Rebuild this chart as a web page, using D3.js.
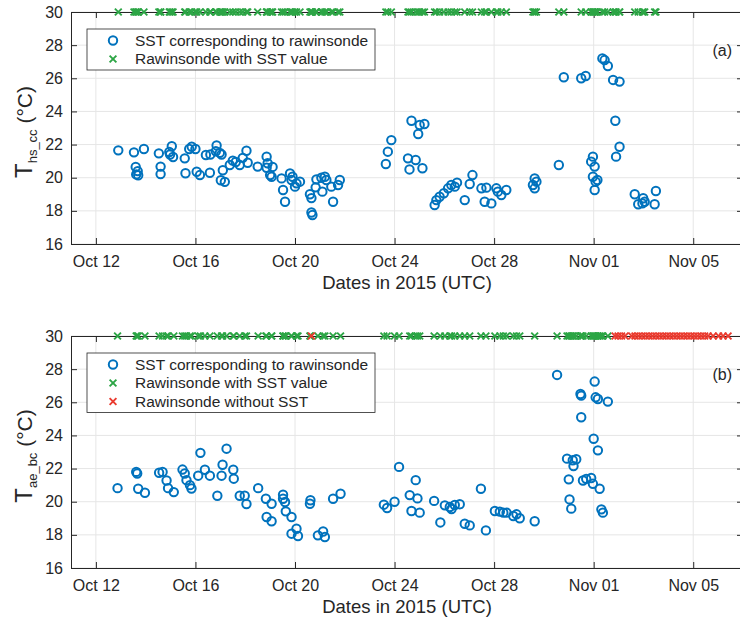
<!DOCTYPE html>
<html>
<head>
<meta charset="utf-8">
<script src="https://cdn.jsdelivr.net/npm/d3@7"></script>
<style>
	body { margin: 0; background: #fff; }
	svg { font-family: "Liberation Sans", Arial, Helvetica, sans-serif; }
</style>
</head>
<body>
<svg id="chart" width="740" height="620"></svg>
<script>
// times are day numbers counted in October 2015, UTC (Nov 01 = 32)

// (a) T_hs_cc
var dayA = [12.90, 13.53, 13.93, 13.60, 13.68, 13.62, 13.70, 14.53, 14.60, 14.60,
	14.95, 15.05, 15.10, 14.98, 15.57, 15.75, 15.85, 16.00, 15.60, 16.05,
	16.18, 16.42, 16.60, 16.58, 16.85, 16.82, 17.05, 16.98, 17.10, 17.02,
	17.18, 17.38, 17.50, 17.78, 17.90, 18.05, 18.10, 17.62, 18.50, 18.86,
	18.90, 18.86, 19.10, 19.00, 19.06, 19.46, 19.52, 19.60, 19.80, 19.90,
	19.86, 20.06, 20.20, 20.00, 20.60, 20.66, 20.66, 20.70, 20.86, 20.83,
	21.06, 21.20, 21.26, 21.10, 21.46, 21.53, 21.80, 21.73, 23.65, 23.73,
	23.87, 24.68, 24.95, 25.01, 25.20, 24.54, 24.60, 24.85, 25.12, 25.61,
	25.68, 25.81, 25.98, 26.15, 26.28, 26.51, 26.42, 26.82, 27.02, 27.13,
	27.49, 27.69, 27.62, 27.89, 28.09, 28.29, 28.49, 28.15, 29.63, 29.56,
	29.63, 29.70, 30.60, 30.80, 31.50, 31.68, 31.90, 31.97, 32.04, 31.97,
	32.15, 32.04, 32.08, 32.35, 32.44, 32.57, 32.78, 33.04, 32.87, 33.04,
	32.90, 33.65, 33.79, 33.99, 34.05, 33.96, 34.50, 34.45];
var sstA = [21.65, 21.53, 21.73, 20.65, 20.40, 20.20, 20.15, 21.47, 20.67, 20.22,
	21.55, 21.90, 21.25, 21.40, 21.17, 21.73, 21.87, 21.73, 20.27, 20.36,
	20.16, 21.37, 21.40, 20.30, 21.95, 21.60, 21.40, 21.50, 20.45, 19.85,
	19.75, 20.77, 21.03, 20.77, 21.20, 21.63, 20.90, 20.95, 20.67, 21.27,
	20.87, 20.60, 20.65, 20.16, 20.06, 19.96, 19.26, 18.55, 20.26, 20.06,
	19.86, 19.66, 19.76, 19.46, 19.00, 18.77, 17.90, 17.75, 19.90, 19.42,
	20.00, 20.06, 19.86, 19.16, 19.46, 18.55, 19.86, 19.56, 20.83, 21.57,
	22.27, 23.44, 22.64, 23.18, 23.24, 21.17, 20.50, 21.07, 20.57, 18.35,
	18.65, 18.85, 19.06, 19.36, 19.56, 19.70, 19.46, 18.65, 19.62, 20.16,
	19.36, 19.40, 18.55, 18.45, 19.36, 18.96, 19.26, 19.16, 19.96, 19.56,
	19.36, 19.76, 20.77, 26.06, 26.00, 26.14, 20.97, 21.27, 20.67, 20.06,
	19.86, 19.26, 19.76, 27.20, 27.10, 26.74, 25.90, 25.80, 23.44, 21.87,
	21.27, 19.00, 18.40, 18.76, 18.55, 18.45, 19.20, 18.40];

// (b) T_ae_bc
var dayB = [12.87, 13.62, 13.66, 13.70, 13.97, 14.54, 14.68, 14.84, 14.90, 15.13,
	15.48, 15.57, 15.64, 15.78, 15.84, 16.20, 16.11, 16.38, 16.58, 16.88,
	17.09, 17.05, 17.25, 17.52, 17.54, 17.78, 17.98, 18.05, 18.52, 18.83,
	19.06, 18.86, 19.06, 19.52, 19.52, 19.60, 19.63, 19.86, 19.86, 20.06,
	20.12, 20.62, 20.60, 20.92, 21.13, 21.20, 21.53, 21.83, 23.57, 23.70,
	24.00, 24.18, 24.61, 24.92, 24.85, 24.68, 25.01, 25.59, 25.84, 26.02,
	26.22, 26.42, 26.62, 26.29, 26.82, 27.02, 27.47, 27.67, 28.03, 28.23,
	28.37, 28.50, 28.77, 28.90, 29.03, 29.63, 30.53, 30.93, 31.16, 31.30,
	31.19, 31.00, 31.03, 31.10, 31.47, 31.50, 31.50, 31.57, 31.70, 32.04,
	32.08, 32.17, 32.57, 32.00, 32.17, 31.90, 31.97, 32.24, 32.31, 32.37];
var sstB = [20.82, 21.80, 21.70, 20.78, 20.54, 21.75, 21.80, 21.28, 20.82, 20.58,
	21.94, 21.70, 21.30, 21.00, 20.80, 22.95, 21.57, 21.93, 21.57, 20.36,
	22.23, 21.57, 23.20, 21.93, 21.39, 20.36, 20.36, 19.86, 20.82, 20.18,
	19.88, 19.08, 18.82, 20.42, 20.18, 19.98, 19.42, 19.08, 18.07, 18.37,
	17.93, 20.09, 19.88, 17.97, 18.20, 17.87, 20.18, 20.48, 19.82, 19.62,
	20.00, 22.10, 20.40, 20.20, 21.30, 19.44, 19.34, 20.05, 18.75, 19.78,
	19.68, 19.80, 19.85, 19.56, 18.67, 18.57, 20.78, 18.27, 19.44, 19.40,
	19.34, 19.34, 19.14, 19.24, 19.00, 18.82, 27.65, 22.60, 22.50, 22.56,
	22.15, 21.35, 20.14, 19.58, 26.50, 26.40, 25.10, 21.28, 21.38, 27.25,
	26.30, 26.20, 26.04, 23.80, 23.10, 21.43, 21.08, 20.78, 19.54, 19.34];
// soundings in (b) that have no SST
var noSstDayB = [20.66, 32.86, 32.98, 33.12, 33.26, 33.53, 33.66, 33.80, 33.94, 34.08,
	34.22, 34.36, 34.50, 34.64, 34.78, 34.92, 35.06, 35.20, 35.34, 35.48,
	35.62, 35.76, 35.90, 36.04, 36.18, 36.32, 36.46, 36.60, 36.80, 37.02,
	37.20, 37.40];

var xDomainDays = [11, 38];
var xTickDays = [12, 16, 20, 24, 28, 32, 36];
var yDomain = [16, 30];
var yTicks = [16, 18, 20, 22, 24, 26, 28, 30];

var BLUE = '#0072BD';
var GREEN = '#2ca545';
var RED = '#ea3b2f';
var INK = '#262626';

var svg = d3.select('#chart');

function toDate(d){
	return new Date(Date.UTC(2015, 9, 1) + (d - 1) * 864e5);
}

var crossPath = 'M-3.4,-3.4L3.4,3.4M-3.4,3.4L3.4,-3.4';

function drawPanel(opts){
	var g = svg.append('g');
	var left = 71, right = 743;

	var x = d3.scaleUtc()
		.domain(xDomainDays.map(toDate))
		.range([left, right]);
	var y = d3.scaleLinear()
		.domain(yDomain)
		.range([opts.bottom, opts.top]);
	var xTicks = xTickDays.map(toDate);

	// grid
	g.append('g').selectAll('line.gx')
		.data(xTicks)
		.enter().append('line')
		.attr('x1', function(d){ return x(d); })
		.attr('x2', function(d){ return x(d); })
		.attr('y1', opts.top)
		.attr('y2', opts.bottom)
		.attr('stroke', '#e6e6e6');
	g.append('g').selectAll('line.gy')
		.data(yTicks)
		.enter().append('line')
		.attr('x1', left)
		.attr('x2', right)
		.attr('y1', function(d){ return y(d); })
		.attr('y2', function(d){ return y(d); })
		.attr('stroke', '#e6e6e6');

	// axes, ticks inside like matlab
	var axB = g.append('g')
		.attr('transform', 'translate(0,' + opts.bottom + ')')
		.call(d3.axisBottom(x).tickValues(xTicks).tickFormat(d3.utcFormat('%b %d'))
			.tickSize(-6).tickSizeOuter(0).tickPadding(12));
	var axT = g.append('g')
		.attr('transform', 'translate(0,' + opts.top + ')')
		.call(d3.axisTop(x).tickValues(xTicks).tickFormat('')
			.tickSize(-6).tickSizeOuter(0));
	var axL = g.append('g')
		.attr('transform', 'translate(' + left + ',0)')
		.call(d3.axisLeft(y).tickValues(yTicks)
			.tickSize(-6).tickSizeOuter(0).tickPadding(8));
	var axR = g.append('g')
		.attr('transform', 'translate(' + right + ',0)')
		.call(d3.axisRight(y).tickValues(yTicks).tickFormat('')
			.tickSize(-6).tickSizeOuter(0));

	[axB, axT, axL, axR].forEach(function(a){
		a.selectAll('path, line').attr('stroke', INK);
		a.selectAll('text')
			.attr('fill', INK)
			.style('font-size', '16px')
			.style('font-family', '"Liberation Sans", Arial, sans-serif');
	});

	// SST circles
	g.append('g').selectAll('circle')
		.data(opts.days)
		.enter().append('circle')
		.attr('cx', function(d){ return x(toDate(d)); })
		.attr('cy', function(d, i){ return y(opts.sst[i]); })
		.attr('r', 4.2)
		.attr('fill', 'none')
		.attr('stroke', BLUE)
		.attr('stroke-width', 2);

	// sounding markers along the top
	g.append('g').selectAll('path.with')
		.data(opts.days)
		.enter().append('path')
		.attr('d', crossPath)
		.attr('transform', function(d){ return 'translate(' + x(toDate(d)) + ',' + y(30) + ')'; })
		.attr('stroke', GREEN)
		.attr('stroke-width', 1.9);
	if (opts.noSst){
		g.append('g').selectAll('path.without')
			.data(opts.noSst)
			.enter().append('path')
			.attr('d', crossPath)
			.attr('transform', function(d){ return 'translate(' + x(toDate(d)) + ',' + y(30) + ')'; })
			.attr('stroke', RED)
			.attr('stroke-width', 1.9);
	}

	// axis labels
	g.append('text')
		.attr('x', (left + right) / 2)
		.attr('y', opts.bottom + 45)
		.attr('text-anchor', 'middle')
		.attr('fill', INK)
		.style('font-size', '18.5px')
		.text('Dates in 2015 (UTC)');

	var mid = (opts.top + opts.bottom) / 2 + 4;
	var lab = g.append('text')
		.attr('transform', 'translate(32,' + mid + ') rotate(-90)')
		.attr('text-anchor', 'middle')
		.attr('fill', INK)
		.style('font-size', '21px');
	lab.append('tspan').style('font-size', '24px').text('T');
	lab.append('tspan').attr('dy', 5).style('font-size', '13px').text(opts.sub);
	lab.append('tspan').attr('dy', -5).text(' (°C)');

	g.append('text')
		.attr('x', 732)
		.attr('y', opts.top + 38)
		.attr('dy', '0.35em')
		.attr('text-anchor', 'end')
		.attr('fill', INK)
		.style('font-size', '16px')
		.text(opts.tag);

	// legend
	var items = [
		{ kind: 'circle', color: BLUE, label: 'SST corresponding to rawinsonde' },
		{ kind: 'cross', color: GREEN, label: 'Rawinsonde with SST value' }
	];
	if (opts.noSst){
		items.push({ kind: 'cross', color: RED, label: 'Rawinsonde without SST' });
	}
	var lg = g.append('g').attr('transform', 'translate(87,' + (opts.top + 17) + ')');
	lg.append('rect')
		.attr('width', 288)
		.attr('height', 18.5 * items.length + 4)
		.attr('fill', '#fff')
		.attr('stroke', INK)
		.attr('stroke-width', 0.8);
	var row = lg.selectAll('g.item')
		.data(items)
		.enter().append('g')
		.attr('transform', function(d, i){ return 'translate(0,' + (11.5 + 18.5 * i) + ')'; });
	row.each(function(d){
		var r = d3.select(this);
		if (d.kind == 'circle'){
			r.append('circle').attr('cx', 26).attr('r', 4.2)
				.attr('fill', 'none').attr('stroke', d.color).attr('stroke-width', 2);
		}else{
			r.append('path').attr('d', crossPath).attr('transform', 'translate(26,0)')
				.attr('stroke', d.color).attr('stroke-width', 1.9);
		}
	});
	row.append('text')
		.attr('x', 48)
		.attr('dy', '0.35em')
		.attr('fill', INK)
		.style('font-size', '15.5px')
		.text(function(d){ return d.label; });
}

drawPanel({ top: 12, bottom: 244, days: dayA, sst: sstA, sub: 'hs_cc', tag: '(a)' });
drawPanel({ top: 336, bottom: 568, days: dayB, sst: sstB, noSst: noSstDayB, sub: 'ae_bc', tag: '(b)' });
</script>
</body>
</html>
